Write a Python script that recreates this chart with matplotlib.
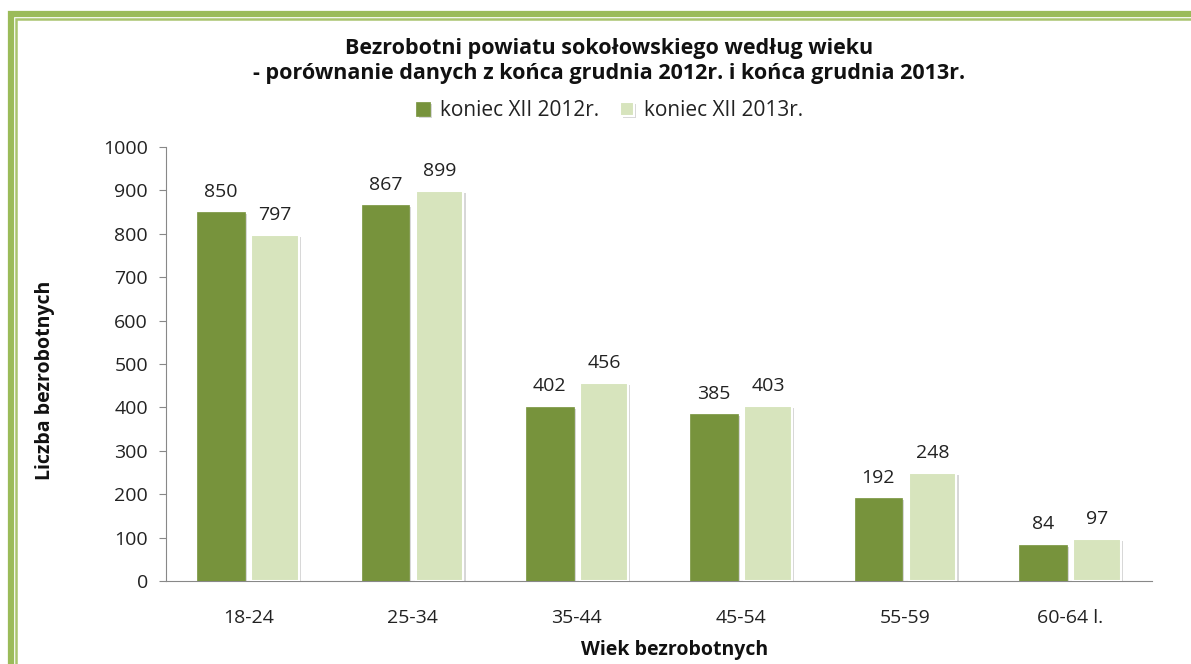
import matplotlib
matplotlib.use("Agg")
import matplotlib.pyplot as plt
import matplotlib.patheffects as pe
from matplotlib.patches import Rectangle
import numpy as np

categories = ["18-24", "25-34", "35-44", "45-54", "55-59", "60-64 l."]
values_2012 = [850, 867, 402, 385, 192, 84]
values_2013 = [797, 899, 456, 403, 248, 97]
series_names = ["koniec XII 2012r.", "koniec XII 2013r."]
title = "Bezrobotni powiatu sokołowskiego według wieku\n- porównanie danych z końca grudnia 2012r. i końca grudnia 2013r."
ylabel = "Liczba bezrobotnych"
xlabel = "Wiek bezrobotnych"

plt.rcParams['font.family'] = ['Open Sans', 'DejaVu Sans']

W, H = 1191, 664
fig = plt.figure(figsize=(W/100, H/100), dpi=100)
fig.patch.set_facecolor("white")

# Border (green frame on left and top)
fig.patches.append(Rectangle((11/W, -0.1), 1.2, 1.1 - 14/H, transform=fig.transFigure,
                             fill=False, edgecolor="#9BBB59", linewidth=4.5, zorder=0))
fig.patches.append(Rectangle((16/W, -0.1), 1.2, 1.1 - 19/H, transform=fig.transFigure,
                             fill=False, edgecolor="#A9C46E", linewidth=1.8, zorder=0))

ax = fig.add_axes([166/W, 1 - 581/H, (1152-166)/W, (581-147)/H])
x = np.arange(len(categories))
bw = 0.29
off = 0.165
dark = "#77933C"
light = "#D7E4BD"
shadow = [pe.SimplePatchShadow(offset=(1.5, -1.5), shadow_rgbFace="#B0B0B0", alpha=0.5), pe.Normal()]
b1 = ax.bar(x - off, values_2012, bw, color=dark, edgecolor=dark, linewidth=0.5,
            label=series_names[0], zorder=3)
b2 = ax.bar(x + off, values_2013, bw, color=light, edgecolor="white", linewidth=1.5,
            label=series_names[1], zorder=3)
for b in list(b1) + list(b2):
    b.set_path_effects(shadow)

fs = 14
for rects, vals in ((b1, values_2012), (b2, values_2013)):
    for r, v in zip(rects, vals):
        ax.annotate(str(v), (r.get_x() + r.get_width()/2, v), xytext=(0, 8),
                    textcoords="offset points", ha="center", va="bottom",
                    fontsize=fs, color="#222222")

ax.set_xlim(-0.5, len(categories) - 0.5)
ax.set_ylim(0, 1000)
ax.set_yticks(np.arange(0, 1001, 100))
ax.set_xticks(x)
ax.set_xticklabels(categories)
ax.tick_params(axis="y", length=5, color="#888888", labelsize=fs, labelcolor="#222222", pad=8)
ax.tick_params(axis="x", length=0, labelsize=fs, labelcolor="#222222", pad=20)
for s in ["top", "right"]:
    ax.spines[s].set_visible(False)
ax.spines["left"].set_color("#888888")
ax.spines["bottom"].set_color("#888888")

ax.set_ylabel(ylabel, fontsize=fs, fontweight="bold", color="#111111", va="center")
ax.yaxis.set_label_coords((45 - 166) / 986, (581 - 380) / 434)
ax.set_xlabel(xlabel, fontsize=fs, fontweight="bold", color="#111111", va="center")
ax.xaxis.set_label_coords((675 - 166) / 986, (581 - 650) / 434)

fig.text(609/W, 1 - 61/H, title, ha="center", va="center", fontsize=15.5,
         fontweight="bold", linespacing=1.3, color="#111111")

leg = fig.legend(handles=[b1, b2], loc="center", bbox_to_anchor=(610/W, 1 - 111/H), ncol=2,
                 frameon=False, fontsize=15, handlelength=0.65, handleheight=0.65,
                 columnspacing=1.0, handletextpad=0.5)
for t in leg.get_texts():
    t.set_color("#222222")

fig.savefig("out.png", dpi=100, facecolor="white")
